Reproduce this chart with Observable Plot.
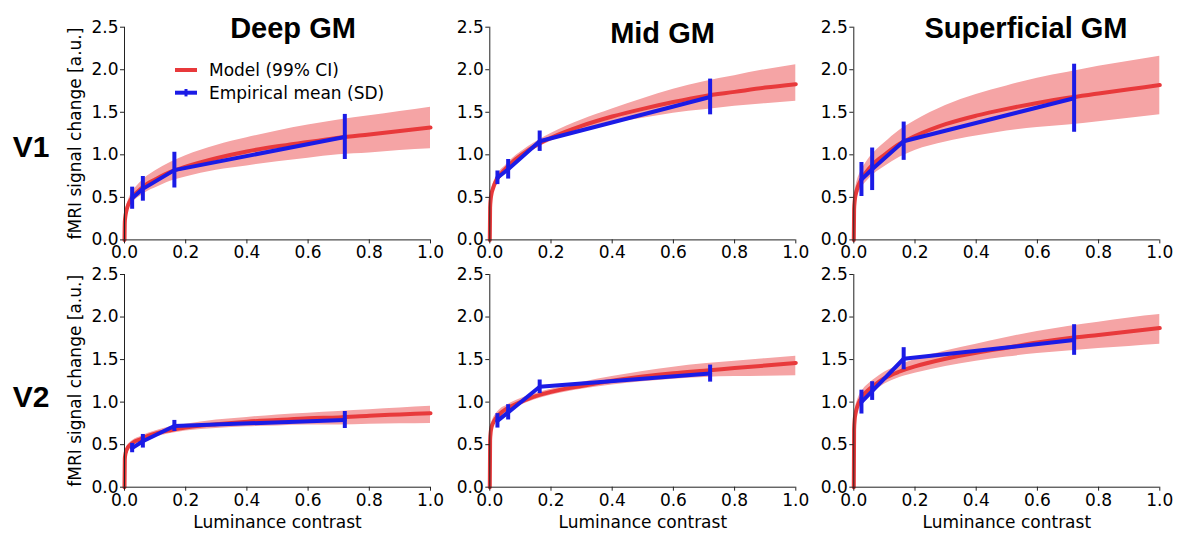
<!DOCTYPE html>
<html>
<head>
<meta charset="utf-8">
<script src="https://cdn.jsdelivr.net/npm/d3@7"></script>
<script src="https://cdn.jsdelivr.net/npm/@observablehq/plot@0.6"></script>
<style>
  html, body { margin: 0; padding: 0; background: #fff; overflow: hidden; }
  #wrap { position: relative; width: 1177px; height: 534px; }
  #wrap > svg, #wrap > div { position: absolute; left: 0; top: 0; }
  .legend { font-family: "DejaVu Sans", sans-serif; font-size: 17px; color: #000; }
</style>
</head>
<body>
<div id="wrap"></div>
<script>
// ---------- data ----------
const columns = ["Deep GM", "Mid GM", "Superficial GM"];
const rows = ["V1", "V2"];
const xTicks = [0, 0.2, 0.4, 0.6, 0.8, 1.0];
const yTicks = [0, 0.5, 1.0, 1.5, 2.0, 2.5];

const modelX = [0, 0.001, 0.003, 0.006, 0.01, 0.02, 0.035, 0.05, 0.075, 0.1, 0.15, 0.2, 0.3, 0.4, 0.5, 0.6, 0.7, 0.8, 0.9, 1.0];

const v1DeepMid = [0, 0.21, 0.28, 0.34, 0.39, 0.47, 0.54, 0.59, 0.66, 0.71, 0.80, 0.86, 0.96, 1.04, 1.10, 1.15, 1.20, 1.24, 1.28, 1.32];
const v1DeepHi  = [0, 0.24, 0.32, 0.39, 0.44, 0.53, 0.61, 0.67, 0.75, 0.81, 0.91, 0.99, 1.11, 1.20, 1.28, 1.35, 1.41, 1.46, 1.51, 1.56];
const v1DeepLo  = [0, 0.18, 0.24, 0.29, 0.34, 0.41, 0.47, 0.51, 0.57, 0.61, 0.69, 0.74, 0.82, 0.87, 0.92, 0.96, 1.00, 1.02, 1.05, 1.07];

const v1MidMid = [0, 0.38, 0.48, 0.55, 0.60, 0.69, 0.77, 0.83, 0.92, 0.99, 1.11, 1.20, 1.34, 1.45, 1.54, 1.62, 1.69, 1.74, 1.79, 1.83];
const v1MidHi  = [0, 0.42, 0.53, 0.60, 0.65, 0.74, 0.82, 0.87, 0.96, 1.03, 1.15, 1.25, 1.41, 1.54, 1.66, 1.77, 1.86, 1.93, 2.00, 2.06];
const v1MidLo  = [0, 0.34, 0.43, 0.50, 0.55, 0.64, 0.72, 0.79, 0.88, 0.95, 1.07, 1.16, 1.28, 1.37, 1.43, 1.49, 1.53, 1.57, 1.60, 1.63];

const v1SupMid = [0, 0.36, 0.46, 0.53, 0.59, 0.68, 0.77, 0.84, 0.93, 1.00, 1.13, 1.22, 1.36, 1.46, 1.54, 1.61, 1.67, 1.72, 1.77, 1.82];
const v1SupHi  = [0, 0.42, 0.53, 0.61, 0.68, 0.78, 0.88, 0.96, 1.06, 1.14, 1.29, 1.40, 1.58, 1.71, 1.81, 1.90, 1.97, 2.04, 2.10, 2.16];
const v1SupLo  = [0, 0.30, 0.39, 0.45, 0.50, 0.58, 0.66, 0.72, 0.80, 0.86, 0.97, 1.05, 1.15, 1.22, 1.28, 1.32, 1.35, 1.39, 1.43, 1.47];

const v2DeepMid = [0, 0.33, 0.39, 0.43, 0.46, 0.50, 0.54, 0.56, 0.60, 0.63, 0.67, 0.70, 0.74, 0.77, 0.79, 0.81, 0.82, 0.84, 0.855, 0.87];
const v2DeepHi  = [0, 0.36, 0.42, 0.46, 0.49, 0.53, 0.57, 0.59, 0.63, 0.66, 0.71, 0.74, 0.79, 0.82, 0.85, 0.87, 0.89, 0.91, 0.93, 0.95];
const v2DeepLo  = [0, 0.30, 0.36, 0.40, 0.43, 0.47, 0.51, 0.53, 0.57, 0.59, 0.63, 0.66, 0.69, 0.71, 0.72, 0.73, 0.73, 0.74, 0.745, 0.75];

const v2MidMid = [0, 0.55, 0.65, 0.71, 0.75, 0.81, 0.87, 0.91, 0.96, 1.00, 1.07, 1.12, 1.19, 1.25, 1.30, 1.34, 1.37, 1.40, 1.43, 1.46];
const v2MidHi  = [0, 0.60, 0.70, 0.76, 0.80, 0.86, 0.92, 0.95, 1.00, 1.04, 1.10, 1.15, 1.23, 1.30, 1.36, 1.41, 1.45, 1.48, 1.51, 1.54];
const v2MidLo  = [0, 0.50, 0.60, 0.66, 0.70, 0.76, 0.82, 0.87, 0.92, 0.96, 1.03, 1.08, 1.15, 1.20, 1.24, 1.27, 1.29, 1.30, 1.305, 1.31];

const v2SupMid = [0, 0.68, 0.80, 0.87, 0.93, 1.02, 1.10, 1.15, 1.22, 1.28, 1.36, 1.42, 1.51, 1.58, 1.64, 1.70, 1.75, 1.79, 1.83, 1.87];
const v2SupHi  = [0, 0.74, 0.87, 0.94, 1.00, 1.09, 1.17, 1.22, 1.29, 1.35, 1.43, 1.50, 1.60, 1.68, 1.76, 1.83, 1.89, 1.94, 1.99, 2.03];
const v2SupLo  = [0, 0.62, 0.73, 0.80, 0.86, 0.95, 1.03, 1.08, 1.15, 1.21, 1.29, 1.34, 1.42, 1.48, 1.53, 1.57, 1.60, 1.63, 1.655, 1.68];

const empX = [0.025, 0.06, 0.163, 0.72];
const v1DeepMean = [0.49, 0.60, 0.82, 1.21];
const v1DeepSD   = [0.13, 0.145, 0.21, 0.265];
const v1MidMean  = [0.73, 0.83, 1.16, 1.68];
const v1MidSD    = [0.08, 0.115, 0.12, 0.21];
const v1SupMean  = [0.71, 0.83, 1.16, 1.665];
const v1SupSD    = [0.20, 0.25, 0.225, 0.40];
const v2DeepMean = [0.46, 0.54, 0.72, 0.79];
const v2DeepSD   = [0.055, 0.08, 0.065, 0.10];
const v2MidMean  = [0.78, 0.88, 1.18, 1.335];
const v2MidSD    = [0.085, 0.09, 0.08, 0.10];
const v2SupMean  = [1.00, 1.13, 1.51, 1.73];
const v2SupSD    = [0.14, 0.11, 0.13, 0.18];

const yLabel = "fMRI signal change [a.u.]";
const xLabel = "Luminance contrast";
const legendLabels = ["Model (99% CI)", "Empirical mean (SD)"];

// ---------- styling / layout ----------
const RED = "#e8393b", BAND = "#f5a4a5", BLUE = "#1b1be6", AX = "#222";
const W = 1177, H = 534;
const colLeft = [124, 489.3, 853.3];
const rowTop = [26.7, 274];
const PW = 306, PH = 212.7;
const fmt = d3.format(".1f");

const panels = [
  [{mid: v1DeepMid, hi: v1DeepHi, lo: v1DeepLo, mean: v1DeepMean, sd: v1DeepSD},
   {mid: v1MidMid, hi: v1MidHi, lo: v1MidLo, mean: v1MidMean, sd: v1MidSD},
   {mid: v1SupMid, hi: v1SupHi, lo: v1SupLo, mean: v1SupMean, sd: v1SupSD}],
  [{mid: v2DeepMid, hi: v2DeepHi, lo: v2DeepLo, mean: v2DeepMean, sd: v2DeepSD},
   {mid: v2MidMid, hi: v2MidHi, lo: v2MidLo, mean: v2MidMean, sd: v2MidSD},
   {mid: v2SupMid, hi: v2SupHi, lo: v2SupLo, mean: v2SupMean, sd: v2SupSD}]
];

const wrap = document.getElementById("wrap");

panels.forEach((row, r) => row.forEach((p, c) => {
  const model = modelX.map((x, i) => ({x, mid: p.mid[i], lo: p.lo[i], hi: p.hi[i]}));
  const emp = empX.map((x, i) => ({x, mean: p.mean[i], sd: p.sd[i]}));
  const left = colLeft[c], top = rowTop[r];
  const marks = [
    Plot.areaY(model, {x: "x", y1: "lo", y2: "hi", fill: BAND, curve: "monotone-x"}),
    Plot.line(model, {x: "x", y: "mid", stroke: RED, strokeWidth: 4, curve: "monotone-x"}),
    Plot.ruleX(emp, {x: "x", y1: d => d.mean - d.sd, y2: d => d.mean + d.sd, stroke: BLUE, strokeWidth: 4}),
    Plot.line(emp, {x: "x", y: "mean", stroke: BLUE, strokeWidth: 4}),
    Plot.ruleX([0], {stroke: AX, strokeWidth: 1}),
    Plot.ruleY([0], {stroke: AX, strokeWidth: 1}),
    Plot.axisX({ticks: xTicks, tickFormat: fmt, tickSize: 4, tickPadding: 2.5, label: null, stroke: AX}),
    Plot.axisY({ticks: yTicks, tickFormat: fmt, tickSize: 4, tickPadding: 2, label: null, stroke: AX})
  ];
  if (c === 0) {
    marks.push(Plot.text([yLabel], {text: d => d, frameAnchor: "left", rotate: -90, dx: -49,
      textAnchor: "middle", lineAnchor: "middle", fontSize: 17, fill: "#000"}));
  }
  if (r === 1) {
    marks.push(Plot.text([xLabel], {text: d => d, frameAnchor: "bottom", dy: 35,
      textAnchor: "middle", lineAnchor: "middle", fontSize: 17, fill: "#000"}));
  }
  const svg = Plot.plot({
    width: W, height: H,
    marginLeft: left, marginRight: W - left - PW,
    marginTop: top, marginBottom: H - top - PH,
    x: {domain: [0, 1]},
    y: {domain: [0, 2.5]},
    style: {background: "transparent", fontFamily: "'DejaVu Sans', sans-serif", fontSize: "17px", color: "#000", overflow: "visible"},
    marks
  });
  wrap.appendChild(svg);
}));

// ---------- titles, row labels ----------
const over = d3.create("svg").attr("width", W).attr("height", H)
  .style("position", "absolute").style("left", 0).style("top", 0);
const titlePos = [[293, 37.5], [662.5, 43.3], [1026, 38]];
columns.forEach((t, i) => {
  over.append("text").attr("x", titlePos[i][0]).attr("y", titlePos[i][1])
    .attr("text-anchor", "middle").attr("font-family", "'Liberation Sans', Arial, sans-serif")
    .attr("font-weight", "bold").attr("font-size", 29).text(t);
});
const rowPos = [[31, 157], [31, 407]];
rows.forEach((t, i) => {
  over.append("text").attr("x", rowPos[i][0]).attr("y", rowPos[i][1])
    .attr("text-anchor", "middle").attr("font-family", "'Liberation Sans', Arial, sans-serif")
    .attr("font-weight", "bold").attr("font-size", 30).text(t);
});
// legend
const lg = over.append("g").attr("font-family", "'DejaVu Sans', sans-serif").attr("font-size", 17);
lg.append("line").attr("x1", 175).attr("x2", 197).attr("y1", 70).attr("y2", 70)
  .attr("stroke", RED).attr("stroke-width", 4);
lg.append("line").attr("x1", 175).attr("x2", 197).attr("y1", 92.7).attr("y2", 92.7)
  .attr("stroke", BLUE).attr("stroke-width", 4);
lg.append("line").attr("x1", 186).attr("x2", 186).attr("y1", 89).attr("y2", 96.4)
  .attr("stroke", BLUE).attr("stroke-width", 3);
legendLabels.forEach((t, i) => {
  lg.append("text").attr("x", 209).attr("y", 70 + i * 22.7).attr("dy", "0.35em").text(t);
});
wrap.appendChild(over.node());
</script>
</body>
</html>
